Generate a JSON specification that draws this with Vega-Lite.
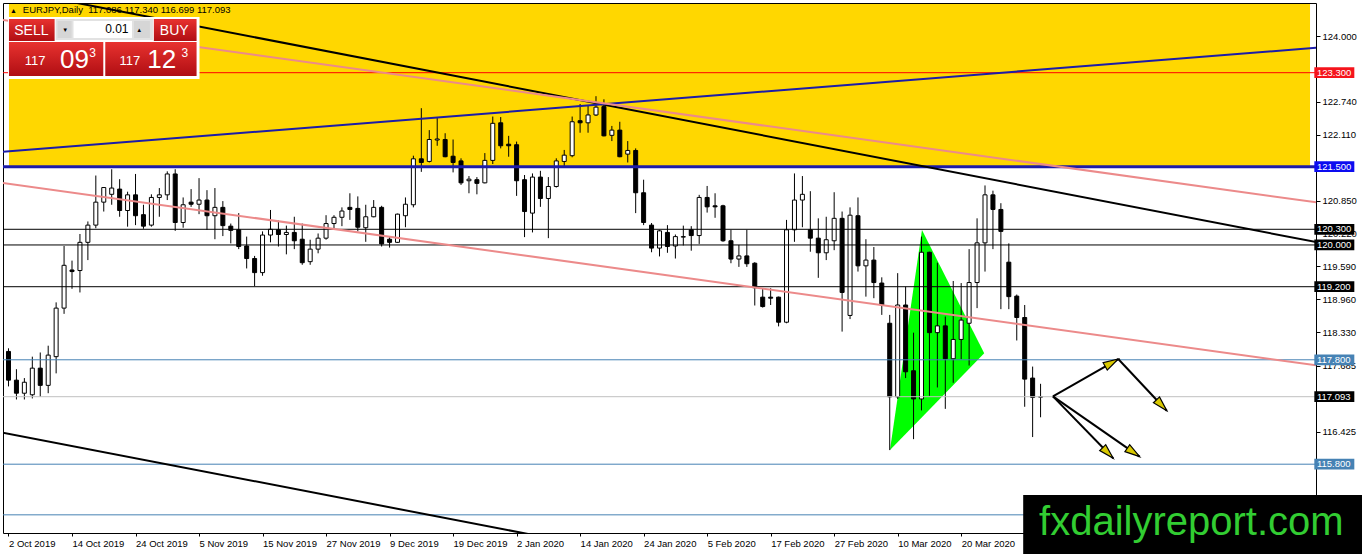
{
  "$schema": "https://vega.github.io/schema/vega-lite/v6.json",
  "width": 1313,
  "height": 530,
  "autosize": {"type": "none"},
  "padding": {"left": 3, "top": 3, "right": 46, "bottom": 21},
  "background": "#ffffff",
  "config": {
    "view": {"stroke": "#000000", "strokeWidth": 1},
    "axis": {"labelFont": "Liberation Sans", "labelFontSize": 9.5, "labelColor": "#000000", "tickColor": "#000000", "tickWidth": 1, "grid": false, "domain": false}
  },
  "resolve": {"scale": {"color": "independent", "fill": "independent", "size": "independent"}},
  "datasets": {
    "candles": [
      {"i":0,"o":117.96,"h":118.02,"l":117.29,"c":117.41},
      {"i":1,"o":117.41,"h":117.62,"l":117.04,"c":117.16},
      {"i":2,"o":117.16,"h":117.45,"l":117.04,"c":117.37},
      {"i":3,"o":117.13,"h":117.86,"l":117.06,"c":117.64},
      {"i":4,"o":117.64,"h":117.94,"l":117.09,"c":117.31},
      {"i":5,"o":117.31,"h":118.07,"l":117.16,"c":117.89},
      {"i":6,"o":117.86,"h":118.9,"l":117.54,"c":118.79},
      {"i":7,"o":118.79,"h":119.98,"l":118.68,"c":119.61},
      {"i":8,"o":119.52,"h":119.7,"l":119.16,"c":119.49},
      {"i":9,"o":119.51,"h":120.21,"l":119.09,"c":120.05},
      {"i":10,"o":120.05,"h":120.45,"l":119.71,"c":120.38},
      {"i":11,"o":120.38,"h":121.33,"l":120.32,"c":120.82},
      {"i":12,"o":120.82,"h":121.11,"l":120.64,"c":121.1},
      {"i":13,"o":120.97,"h":121.45,"l":120.77,"c":121.09},
      {"i":14,"o":121.07,"h":121.26,"l":120.54,"c":120.66},
      {"i":15,"o":120.66,"h":121.02,"l":120.35,"c":120.96},
      {"i":16,"o":120.96,"h":121.36,"l":120.38,"c":120.56},
      {"i":17,"o":120.58,"h":120.77,"l":120.31,"c":120.36},
      {"i":18,"o":120.38,"h":120.97,"l":120.35,"c":120.91},
      {"i":19,"o":120.91,"h":121.09,"l":120.54,"c":120.96},
      {"i":20,"o":120.96,"h":121.41,"l":120.86,"c":121.36},
      {"i":21,"o":121.36,"h":121.45,"l":120.27,"c":120.43},
      {"i":22,"o":120.43,"h":120.91,"l":120.33,"c":120.77},
      {"i":23,"o":120.82,"h":121.07,"l":120.73,"c":120.78},
      {"i":24,"o":120.78,"h":121.28,"l":120.59,"c":120.86},
      {"i":25,"o":120.86,"h":121.05,"l":120.29,"c":120.56},
      {"i":26,"o":120.56,"h":121.09,"l":120.11,"c":120.72},
      {"i":27,"o":120.72,"h":120.84,"l":120.17,"c":120.37},
      {"i":28,"o":120.36,"h":120.41,"l":120.03,"c":120.28},
      {"i":29,"o":120.29,"h":120.61,"l":119.92,"c":119.97},
      {"i":30,"o":119.98,"h":120.16,"l":119.55,"c":119.74},
      {"i":31,"o":119.74,"h":119.79,"l":119.21,"c":119.47},
      {"i":32,"o":119.47,"h":120.26,"l":119.41,"c":120.19},
      {"i":33,"o":120.19,"h":120.67,"l":120.05,"c":120.3},
      {"i":34,"o":120.29,"h":120.47,"l":119.97,"c":120.2},
      {"i":35,"o":120.2,"h":120.37,"l":119.82,"c":120.24},
      {"i":36,"o":120.24,"h":120.54,"l":119.92,"c":120.08},
      {"i":37,"o":120.11,"h":120.41,"l":119.62,"c":119.66},
      {"i":38,"o":119.68,"h":120.1,"l":119.62,"c":119.92},
      {"i":39,"o":119.92,"h":120.22,"l":119.84,"c":120.13},
      {"i":40,"o":120.13,"h":120.57,"l":120.1,"c":120.41},
      {"i":41,"o":120.41,"h":120.57,"l":120.32,"c":120.53},
      {"i":42,"o":120.53,"h":120.72,"l":120.36,"c":120.65},
      {"i":43,"o":120.72,"h":120.99,"l":120.48,"c":120.68},
      {"i":44,"o":120.7,"h":120.93,"l":120.26,"c":120.34},
      {"i":45,"o":120.33,"h":120.77,"l":120.06,"c":120.54},
      {"i":46,"o":120.54,"h":120.86,"l":120.53,"c":120.72},
      {"i":47,"o":120.72,"h":120.75,"l":119.97,"c":120.02},
      {"i":48,"o":120.11,"h":120.16,"l":119.95,"c":120.05},
      {"i":49,"o":120.05,"h":120.6,"l":120.04,"c":120.59},
      {"i":50,"o":120.56,"h":120.91,"l":120.34,"c":120.78},
      {"i":51,"o":120.77,"h":121.71,"l":120.72,"c":121.65},
      {"i":52,"o":121.65,"h":122.62,"l":121.4,"c":121.58},
      {"i":53,"o":121.6,"h":122.2,"l":121.58,"c":122.02},
      {"i":54,"o":122.01,"h":122.43,"l":121.9,"c":122.03},
      {"i":55,"o":122.02,"h":122.14,"l":121.68,"c":121.69},
      {"i":56,"o":121.7,"h":122.02,"l":121.39,"c":121.58},
      {"i":57,"o":121.61,"h":121.66,"l":121.15,"c":121.19},
      {"i":58,"o":121.23,"h":121.32,"l":120.99,"c":121.26},
      {"i":59,"o":121.25,"h":121.3,"l":120.97,"c":121.18},
      {"i":60,"o":121.19,"h":121.76,"l":121.18,"c":121.62},
      {"i":61,"o":121.62,"h":122.46,"l":121.55,"c":122.33},
      {"i":62,"o":122.34,"h":122.45,"l":121.85,"c":121.9},
      {"i":63,"o":121.93,"h":122.09,"l":121.69,"c":121.9},
      {"i":64,"o":121.92,"h":121.98,"l":120.94,"c":121.23},
      {"i":65,"o":121.25,"h":121.34,"l":120.15,"c":120.64},
      {"i":66,"o":120.61,"h":121.37,"l":120.24,"c":121.3},
      {"i":67,"o":121.3,"h":121.42,"l":120.73,"c":120.89},
      {"i":68,"o":120.89,"h":121.3,"l":120.13,"c":121.12},
      {"i":69,"o":121.12,"h":121.66,"l":121.1,"c":121.61},
      {"i":70,"o":121.6,"h":121.82,"l":121.49,"c":121.72},
      {"i":71,"o":121.71,"h":122.46,"l":121.68,"c":122.36},
      {"i":72,"o":122.38,"h":122.7,"l":122.15,"c":122.34},
      {"i":73,"o":122.34,"h":122.68,"l":122.15,"c":122.49},
      {"i":74,"o":122.49,"h":122.85,"l":122.47,"c":122.64},
      {"i":75,"o":122.65,"h":122.79,"l":122.08,"c":122.09},
      {"i":76,"o":122.1,"h":122.28,"l":121.99,"c":122.2},
      {"i":77,"o":122.2,"h":122.36,"l":121.68,"c":121.69},
      {"i":78,"o":121.74,"h":121.99,"l":121.58,"c":121.81},
      {"i":79,"o":121.81,"h":121.85,"l":120.61,"c":121.0},
      {"i":80,"o":121.0,"h":121.25,"l":120.38,"c":120.43},
      {"i":81,"o":120.38,"h":120.42,"l":119.86,"c":119.94},
      {"i":82,"o":119.94,"h":120.29,"l":119.78,"c":120.27},
      {"i":83,"o":120.24,"h":120.38,"l":119.85,"c":119.97},
      {"i":84,"o":119.98,"h":120.2,"l":119.74,"c":120.16},
      {"i":85,"o":120.15,"h":120.37,"l":119.99,"c":120.16},
      {"i":86,"o":120.29,"h":120.36,"l":119.89,"c":120.18},
      {"i":87,"o":120.18,"h":120.96,"l":120.02,"c":120.91},
      {"i":88,"o":120.91,"h":121.13,"l":120.62,"c":120.73},
      {"i":89,"o":120.75,"h":120.99,"l":120.52,"c":120.73},
      {"i":90,"o":120.75,"h":120.77,"l":120.06,"c":120.08},
      {"i":91,"o":120.08,"h":120.29,"l":119.65,"c":119.73},
      {"i":92,"o":119.73,"h":120.0,"l":119.58,"c":119.79},
      {"i":93,"o":119.79,"h":120.29,"l":119.58,"c":119.64},
      {"i":94,"o":119.65,"h":119.67,"l":118.84,"c":119.18},
      {"i":95,"o":119.0,"h":119.17,"l":118.8,"c":118.82},
      {"i":96,"o":119.0,"h":119.17,"l":118.85,"c":118.98},
      {"i":97,"o":119.0,"h":119.01,"l":118.44,"c":118.52},
      {"i":98,"o":118.52,"h":120.48,"l":118.5,"c":120.29},
      {"i":99,"o":120.29,"h":121.37,"l":120.06,"c":120.86},
      {"i":100,"o":120.86,"h":121.32,"l":120.34,"c":120.97},
      {"i":101,"o":120.29,"h":121.03,"l":119.87,"c":120.13},
      {"i":102,"o":120.13,"h":120.51,"l":119.37,"c":119.85},
      {"i":103,"o":119.85,"h":120.54,"l":119.71,"c":120.1},
      {"i":104,"o":120.08,"h":121.01,"l":119.9,"c":120.51},
      {"i":105,"o":120.51,"h":120.64,"l":118.34,"c":119.09},
      {"i":106,"o":118.65,"h":120.72,"l":118.58,"c":120.57},
      {"i":107,"o":120.56,"h":120.91,"l":119.49,"c":119.6},
      {"i":108,"o":119.6,"h":120.11,"l":119.01,"c":119.71},
      {"i":109,"o":119.71,"h":119.96,"l":118.98,"c":119.28},
      {"i":110,"o":119.27,"h":119.38,"l":118.66,"c":118.85},
      {"i":111,"o":118.5,"h":118.66,"l":116.07,"c":117.09},
      {"i":112,"o":117.09,"h":119.46,"l":117.05,"c":118.85},
      {"i":113,"o":118.85,"h":119.2,"l":117.45,"c":117.57},
      {"i":114,"o":117.59,"h":118.32,"l":116.28,"c":117.05},
      {"i":115,"o":117.05,"h":120.16,"l":116.83,"c":119.86},
      {"i":116,"o":119.86,"h":119.87,"l":117.11,"c":118.32},
      {"i":117,"o":118.32,"h":119.66,"l":117.27,"c":118.45},
      {"i":118,"o":118.45,"h":118.63,"l":116.86,"c":117.82},
      {"i":119,"o":117.82,"h":119.31,"l":117.36,"c":118.19},
      {"i":120,"o":118.19,"h":119.27,"l":117.81,"c":118.56},
      {"i":121,"o":118.5,"h":119.92,"l":117.69,"c":119.28},
      {"i":122,"o":119.28,"h":120.51,"l":118.79,"c":120.04},
      {"i":123,"o":120.04,"h":121.14,"l":119.49,"c":120.96},
      {"i":124,"o":120.96,"h":121.04,"l":119.92,"c":120.68},
      {"i":125,"o":120.68,"h":120.8,"l":118.77,"c":120.26},
      {"i":126,"o":119.67,"h":120.03,"l":118.77,"c":119.01},
      {"i":127,"o":119.02,"h":119.05,"l":118.17,"c":118.61},
      {"i":128,"o":118.61,"h":118.85,"l":116.9,"c":117.43},
      {"i":129,"o":117.45,"h":117.67,"l":116.32,"c":117.08},
      {"i":130,"o":117.086,"h":117.34,"l":116.699,"c":117.093}
    ],
    "levels": [
      {"p":123.3,"kind":"target"},
      {"p":121.5,"kind":"zone"},
      {"p":120.3,"kind":"pivot"},
      {"p":120.0,"kind":"pivot"},
      {"p":119.2,"kind":"pivot"},
      {"p":117.8,"kind":"support"},
      {"p":117.093,"kind":"bid"},
      {"p":115.8,"kind":"support"},
      {"p":114.83,"kind":"floor"}
    ],
    "trendlines": [
      {"name":"resistance","i1":-1,"p1":124.918,"i2":165,"p2":120.046},
      {"name":"support","i1":-1,"p1":116.413,"i2":100,"p2":113.449},
      {"name":"rising","i1":-1,"p1":121.78,"i2":165,"p2":123.78},
      {"name":"channel","i1":-1,"p1":124.317,"i2":165,"p2":120.811},
      {"name":"channel","i1":-1,"p1":121.193,"i2":165,"p2":117.687}
    ],
    "arrows": [
      {"i1":131.56,"p1":117.1,"i2":139.78,"p2":117.815},
      {"i1":139.78,"p1":117.815,"i2":145.9,"p2":116.825},
      {"i1":131.56,"p1":117.1,"i2":139.15,"p2":115.913},
      {"i1":131.56,"p1":117.1,"i2":142.48,"p2":115.944}
    ],
    "triangle": [
      {"i":111.03,"top":116.072,"bot":116.072},
      {"i":115.06,"top":120.287,"bot":116.701},
      {"i":122.9,"top":117.925,"bot":117.925}
    ],
    "header": [
      {"t":"\u25b2","i":0.19,"p":124.438},
      {"t":"EURJPY,Daily\u00a0\u00a0117.086 117.340 116.699 117.093","i":1.81,"p":124.438}
    ],
    "panel": [
      {"part":"frame","i1":-0.06,"i2":24.06,"p1":124.367,"p2":123.179},
      {"part":"spin","i1":5.94,"i2":18.19,"p1":124.329,"p2":123.926},
      {"part":"button","i1":6.19,"i2":7.94,"p1":124.291,"p2":123.965},
      {"part":"field","i1":8.19,"i2":15.56,"p1":124.291,"p2":123.965},
      {"part":"button","i1":15.81,"i2":17.81,"p1":124.291,"p2":123.965}
    ],
    "panelRed": [
      {"i1":0.06,"i2":5.81,"p1":124.329,"p2":123.907},
      {"i1":18.31,"i2":23.69,"p1":124.329,"p2":123.907},
      {"i1":0.06,"i2":11.94,"p1":123.888,"p2":123.237},
      {"i1":12.19,"i2":23.69,"p1":123.888,"p2":123.237}
    ],
    "panelWhite": [
      {"t":"SELL","i":2.88,"p":124.013,"role":"caption"},
      {"t":"BUY","i":20.88,"p":124.013,"role":"caption"},
      {"t":"117","i":3.35,"p":123.448,"role":"small"},
      {"t":"117","i":15.28,"p":123.448,"role":"small"},
      {"t":"3","i":10.6,"p":123.607,"role":"sup"},
      {"t":"3","i":22.2,"p":123.607,"role":"sup"}
    ],
    "panelBig": [
      {"t":"09","i":8.3,"p":123.39},
      {"t":"12","i":19.31,"p":123.39}
    ],
    "panelDark": [
      {"t":"0.01","i":13.65,"p":124.055,"role":"qty"},
      {"t":"\u25bc","i":7.13,"p":124.07,"role":"spin"},
      {"t":"\u25b2","i":16.48,"p":124.07,"role":"spin"}
    ]
  },
  "layer": [
    {
      "data": {"values": [{"i1": 0.06, "i2": 163.94, "lo": 121.5, "hi": 124.615}]},
      "mark": {"type": "rect", "color": "#ffd700", "clip": true},
      "encoding": {
        "x": {
          "field": "i1", "type": "quantitative",
          "scale": {"domain": [-0.0625, 164.0625]},
          "axis": {
            "orient": "bottom", "title": null,
            "values": [0, 8, 16, 24, 32, 40, 48, 56, 64, 72, 80, 88, 96, 104, 112, 120],
            "labelExpr": "['2 Oct 2019','14 Oct 2019','24 Oct 2019','5 Nov 2019','15 Nov 2019','27 Nov 2019','9 Dec 2019','19 Dec 2019','2 Jan 2020','14 Jan 2020','24 Jan 2020','5 Feb 2020','17 Feb 2020','27 Feb 2020','10 Mar 2020','20 Mar 2020'][round(datum.value / 8)]",
            "labelAlign": "left", "labelFlush": false, "labelOverlap": false,
            "tickSize": 3, "labelPadding": 2
          }
        },
        "x2": {"field": "i2"},
        "y": {
          "field": "hi", "type": "quantitative",
          "scale": {"domain": [114.482, 124.635]},
          "axis": {
            "orient": "right", "title": null,
            "values": [124, 122.74, 122.11, 120.85, 120.22, 119.59, 118.96, 118.33, 117.685, 116.425],
            "format": ".3f", "labelAlign": "left", "labelBaseline": "middle",
            "labelFlush": false, "labelOverlap": false, "tickSize": 4, "labelPadding": 2
          }
        },
        "y2": {"field": "lo"}
      }
    },
    {
      "data": {"name": "triangle"},
      "mark": {"type": "area", "color": "#00ff00", "opacity": 1, "clip": true},
      "encoding": {
        "x": {"field": "i", "type": "quantitative", "scale": {"domain": [-0.0625, 164.0625]}},
        "y": {"field": "top", "type": "quantitative", "scale": {"domain": [114.482, 124.635]}},
        "y2": {"field": "bot"}
      }
    },
    {
      "data": {"name": "header"},
      "mark": {"type": "text", "align": "left", "baseline": "alphabetic", "color": "#000000", "font": "Liberation Sans"},
      "encoding": {
        "x": {"field": "i", "type": "quantitative", "scale": {"domain": [-0.0625, 164.0625]}},
        "y": {"field": "p", "type": "quantitative", "scale": {"domain": [114.482, 124.635]}},
        "text": {"field": "t"},
        "size": {"condition": {"test": "datum.t == '\u25b2'", "value": 7}, "value": 9.5}
      }
    },
    {
      "data": {"name": "candles"},
      "mark": {"type": "rule", "color": "#000000", "strokeWidth": 1, "clip": true},
      "encoding": {
        "x": {"field": "i", "type": "quantitative", "scale": {"domain": [-0.0625, 164.0625]}},
        "y": {"field": "h", "type": "quantitative", "scale": {"domain": [114.482, 124.635]}},
        "y2": {"field": "l"}
      }
    },
    {
      "data": {"name": "candles"},
      "mark": {"type": "bar", "size": 4, "stroke": "#000000", "strokeWidth": 1, "clip": true},
      "encoding": {
        "x": {"field": "i", "type": "quantitative", "scale": {"domain": [-0.0625, 164.0625]}},
        "y": {"field": "o", "type": "quantitative", "scale": {"domain": [114.482, 124.635]}},
        "y2": {"field": "c"},
        "fill": {"condition": {"test": "datum.c >= datum.o", "value": "#ffffff"}, "value": "#000000"}
      }
    },
    {
      "data": {"name": "levels"},
      "mark": {"type": "rule"},
      "encoding": {
        "y": {"field": "p", "type": "quantitative", "scale": {"domain": [114.482, 124.635]}},
        "color": {
          "field": "kind", "type": "nominal", "legend": null,
          "scale": {"domain": ["target", "zone", "pivot", "support", "bid", "floor"], "range": ["#ff0000", "#1c1ca8", "#000000", "#4682b4", "#c0c0c0", "#4682b4"]}
        },
        "strokeWidth": {"condition": {"test": "datum.kind == 'zone'", "value": 3}, "value": 1}
      }
    },
    {
      "data": {"name": "trendlines"},
      "mark": {"type": "rule", "strokeWidth": 2, "clip": true},
      "encoding": {
        "x": {"field": "i1", "type": "quantitative", "scale": {"domain": [-0.0625, 164.0625]}},
        "x2": {"field": "i2"},
        "y": {"field": "p1", "type": "quantitative", "scale": {"domain": [114.482, 124.635]}},
        "y2": {"field": "p2"},
        "color": {
          "field": "name", "type": "nominal", "legend": null,
          "scale": {"domain": ["resistance", "support", "rising", "channel"], "range": ["#000000", "#000000", "#1c1ca8", "#ec8a8a"]}
        }
      }
    },
    {
      "data": {"name": "arrows"},
      "mark": {"type": "rule", "color": "#000000", "strokeWidth": 2, "clip": true},
      "encoding": {
        "x": {"field": "i1", "type": "quantitative", "scale": {"domain": [-0.0625, 164.0625]}},
        "x2": {"field": "i2"},
        "y": {"field": "p1", "type": "quantitative", "scale": {"domain": [114.482, 124.635]}},
        "y2": {"field": "p2"}
      }
    },
    {
      "data": {"name": "arrows"},
      "transform": [{"calculate": "atan2((datum.i2 - datum.i1) * 8, (datum.p2 - datum.p1) * 52.2) * 180 / PI", "as": "ang"}],
      "mark": {"type": "point", "shape": "M0,0L0.28,1L-0.28,1Z", "size": 900, "filled": true, "fill": "#d8c800", "stroke": "#000000", "strokeWidth": 1.2, "opacity": 1},
      "encoding": {
        "x": {"field": "i2", "type": "quantitative", "scale": {"domain": [-0.0625, 164.0625]}},
        "y": {"field": "p2", "type": "quantitative", "scale": {"domain": [114.482, 124.635]}},
        "angle": {"field": "ang", "type": "quantitative", "scale": null}
      }
    },
    {
      "data": {"name": "panel"},
      "mark": {"type": "rect"},
      "encoding": {
        "x": {"field": "i1", "type": "quantitative", "scale": {"domain": [-0.0625, 164.0625]}},
        "x2": {"field": "i2"},
        "y": {"field": "p1", "type": "quantitative", "scale": {"domain": [114.482, 124.635]}},
        "y2": {"field": "p2"},
        "fill": {
          "field": "part", "type": "nominal", "legend": null,
          "scale": {"domain": ["frame", "spin", "button", "field"], "range": ["#ffffff", "#e2e2e2", "#d6d6d6", "#ffffff"]}
        }
      }
    },
    {
      "data": {"name": "panelRed"},
      "mark": {
        "type": "rect",
        "fill": {"gradient": "linear", "x1": 0, "y1": 0, "x2": 0, "y2": 1, "stops": [{"offset": 0, "color": "#e8322f"}, {"offset": 1, "color": "#b00e13"}]}
      },
      "encoding": {
        "x": {"field": "i1", "type": "quantitative", "scale": {"domain": [-0.0625, 164.0625]}},
        "x2": {"field": "i2"},
        "y": {"field": "p1", "type": "quantitative", "scale": {"domain": [114.482, 124.635]}},
        "y2": {"field": "p2"}
      }
    },
    {
      "data": {"name": "panelWhite"},
      "mark": {"type": "text", "align": "center", "baseline": "alphabetic", "color": "#ffffff", "font": "Liberation Sans"},
      "encoding": {
        "x": {"field": "i", "type": "quantitative", "scale": {"domain": [-0.0625, 164.0625]}},
        "y": {"field": "p", "type": "quantitative", "scale": {"domain": [114.482, 124.635]}},
        "text": {"field": "t"},
        "size": {"field": "role", "type": "ordinal", "legend": null, "scale": {"domain": ["caption", "small", "sup"], "range": [14, 12, 10]}}
      }
    },
    {
      "data": {"name": "panelBig"},
      "mark": {"type": "text", "align": "center", "baseline": "alphabetic", "color": "#ffffff", "fontSize": 26, "font": "Liberation Sans"},
      "encoding": {
        "x": {"field": "i", "type": "quantitative", "scale": {"domain": [-0.0625, 164.0625]}},
        "y": {"field": "p", "type": "quantitative", "scale": {"domain": [114.482, 124.635]}},
        "text": {"field": "t"}
      }
    },
    {
      "data": {"name": "panelDark"},
      "mark": {"type": "text", "align": "center", "baseline": "alphabetic", "color": "#000000", "font": "Liberation Sans"},
      "encoding": {
        "x": {"field": "i", "type": "quantitative", "scale": {"domain": [-0.0625, 164.0625]}},
        "y": {"field": "p", "type": "quantitative", "scale": {"domain": [114.482, 124.635]}},
        "text": {"field": "t"},
        "size": {"field": "role", "type": "ordinal", "legend": null, "scale": {"domain": ["qty", "spin"], "range": [12, 6]}}
      }
    },
    {
      "data": {"name": "levels"},
      "transform": [{"filter": "datum.kind != 'floor'"}],
      "mark": {"type": "point", "shape": "M-1,-0.27H1V0.27H-1Z", "size": 1600, "filled": true, "opacity": 1, "strokeWidth": 0},
      "encoding": {
        "x": {"datum": 167, "type": "quantitative", "scale": {"domain": [-0.0625, 164.0625]}},
        "y": {"field": "p", "type": "quantitative", "scale": {"domain": [114.482, 124.635]}},
        "color": {
          "field": "kind", "type": "nominal", "legend": null,
          "scale": {"domain": ["target", "zone", "pivot", "support", "bid"], "range": ["#f5141c", "#0c0cf0", "#000000", "#4682b4", "#000000"]}
        }
      }
    },
    {
      "data": {"name": "levels"},
      "transform": [{"filter": "datum.kind != 'floor'"}],
      "mark": {"type": "text", "align": "left", "baseline": "middle", "color": "#ffffff", "fontSize": 9.5, "font": "Liberation Sans"},
      "encoding": {
        "x": {"datum": 164.81, "type": "quantitative", "scale": {"domain": [-0.0625, 164.0625]}},
        "y": {"field": "p", "type": "quantitative", "scale": {"domain": [114.482, 124.635]}},
        "text": {"field": "p", "type": "quantitative", "format": ".3f"}
      }
    },
    {
      "data": {"values": [{}]},
      "mark": {"type": "rect", "color": "#000000"},
      "encoding": {
        "x": {"datum": 127.81, "type": "quantitative", "scale": {"domain": [-0.0625, 164.0625]}},
        "x2": {"datum": 171},
        "y": {"datum": 115.21, "type": "quantitative", "scale": {"domain": [114.482, 124.635]}},
        "y2": {"datum": 113.9}
      }
    },
    {
      "data": {"values": [{}]},
      "mark": {"type": "text", "text": "fxdailyreport.com", "align": "left", "baseline": "alphabetic", "fontSize": 40, "color": "#32cd32", "font": "Liberation Sans"},
      "encoding": {
        "x": {"datum": 129.81, "type": "quantitative", "scale": {"domain": [-0.0625, 164.0625]}},
        "y": {"datum": 114.444, "type": "quantitative", "scale": {"domain": [114.482, 124.635]}}
      }
    }
  ]
}
